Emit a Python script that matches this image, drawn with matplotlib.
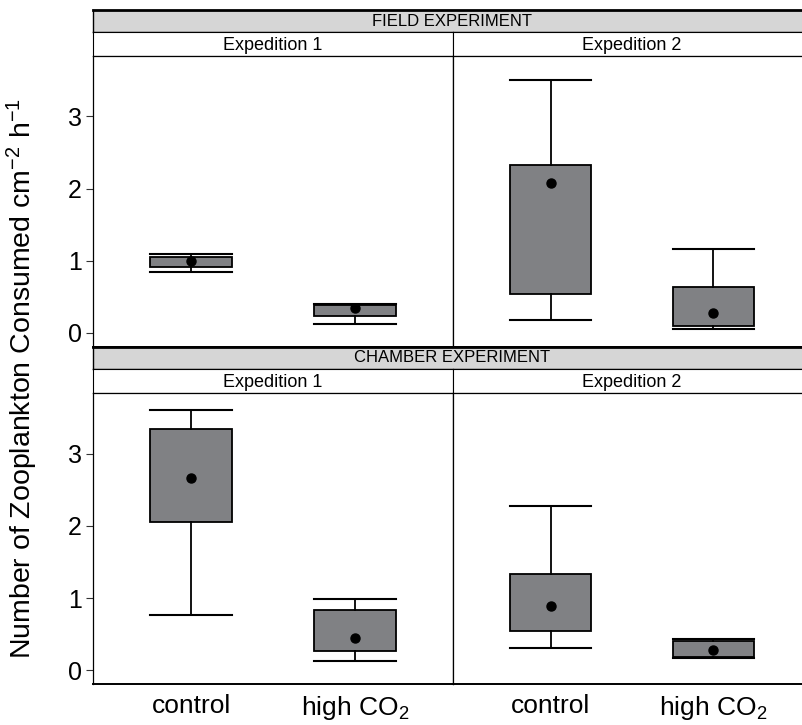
import matplotlib
matplotlib.use("Agg")
from matplotlib import pyplot as plt

plt.rcParams['font.family'] = ['Liberation Sans', 'DejaVu Sans']
plt.rcParams['mathtext.fontset'] = 'custom'
plt.rcParams['mathtext.rm'] = 'Liberation Sans'
plt.rcParams['mathtext.it'] = 'Liberation Sans'

# data, order: field exp1, field exp2, chamber exp1, chamber exp2 (control, high CO2 each)
experiments = ["FIELD EXPERIMENT", "CHAMBER EXPERIMENT"]
expeditions = ["Expedition 1", "Expedition 2"]
treatments = ["control", "high CO$_2$"]

whisker_low = [[0.85, 0.12], [0.18, 0.05], [0.76, 0.124], [0.31, 0.175]]
box_low = [[0.92, 0.235], [0.535, 0.10], [2.06, 0.26], [0.55, 0.19]]
box_high = [[1.05, 0.39], [2.33, 0.64], [3.34, 0.83], [1.33, 0.40]]
whisker_high = [[1.10, 0.40], [3.51, 1.16], [3.60, 0.985], [2.28, 0.43]]
means = [[1.00, 0.34], [2.08, 0.28], [2.66, 0.44], [0.89, 0.28]]

y_ticks = [0, 1, 2, 3]

W, H = 803, 725
fig = plt.figure(figsize=(W / 100, H / 100), dpi=100)


def px_axes(x0, y0, x1, y1):
    return fig.add_axes([x0 / W, 1 - y1 / H, (x1 - x0) / W, (y1 - y0) / H])


L, M, R = 93, 453, 811
strip_gray = "#d6d6d6"
box_gray = "#808184"

rows = [(10, 32, 55.7, 347), (347, 369, 393, 684.3)]

for r, (y_head, y_exp, y_top, y_bot) in enumerate(rows):
    # experiment header
    hax = px_axes(L, y_head, R, y_exp)
    hax.set_facecolor(strip_gray)
    hax.set_xticks([])
    hax.set_yticks([])
    for s in hax.spines.values():
        s.set_linewidth(1.0)
    hax.spines['top'].set_linewidth(2.0)
    hax.text(0.5, 0.5, experiments[r], ha="center", va="center", fontsize=12,
             transform=hax.transAxes)

    for c in range(2):
        x0, x1 = (L, M) if c == 0 else (M, R)
        eax = px_axes(x0, y_exp, x1, y_top)
        eax.set_xticks([])
        eax.set_yticks([])
        for s in eax.spines.values():
            s.set_linewidth(0.8)
        eax.text(0.5, 0.45, expeditions[c], ha="center", va="center", fontsize=13,
                 transform=eax.transAxes)

        ax = px_axes(x0, y_top, x1, y_bot)
        i = r * 2 + c
        stats = []
        for k in range(2):
            stats.append(dict(whislo=whisker_low[i][k], q1=box_low[i][k], med=means[i][k],
                              q3=box_high[i][k], whishi=whisker_high[i][k],
                              mean=means[i][k], fliers=[]))
        parts = ax.bxp(stats, positions=[1, 2], widths=0.5, capwidths=0.5,
                       patch_artist=True, showmeans=True,
                       boxprops=dict(facecolor=box_gray, edgecolor="black", linewidth=1.3),
                       whiskerprops=dict(color="black", linewidth=1.3),
                       capprops=dict(color="black", linewidth=1.5),
                       meanprops=dict(marker="o", markerfacecolor="black",
                                      markeredgecolor="black", markersize=6.5))
        for med in parts['medians']:
            med.set_visible(False)

        ax.set_xlim(0.4, 2.6)
        ax.set_ylim(-0.195, 3.84)
        for s in ax.spines.values():
            s.set_linewidth(0.9)
        ax.spines['bottom'].set_linewidth(1.4)
        if c == 0:
            ax.set_yticks(y_ticks)
            ax.tick_params(axis="y", direction="out", length=5, width=0.8,
                           labelsize=18, pad=3, colors="#333333", labelcolor="black")
        else:
            ax.set_yticks([])
        if r == 1:
            ax.set_xticks([1, 2])
            ax.set_xticklabels(treatments, fontsize=19)
            ax.tick_params(axis="x", length=0, pad=7)
        else:
            ax.set_xticks([])

fig.text(22 / W, 1 - 378 / H, "Number of Zooplankton Consumed cm$^{-2}$ h$^{-1}$",
         rotation=90, ha="center", va="center", fontsize=20.5)

fig.savefig("out.png", dpi=100)
